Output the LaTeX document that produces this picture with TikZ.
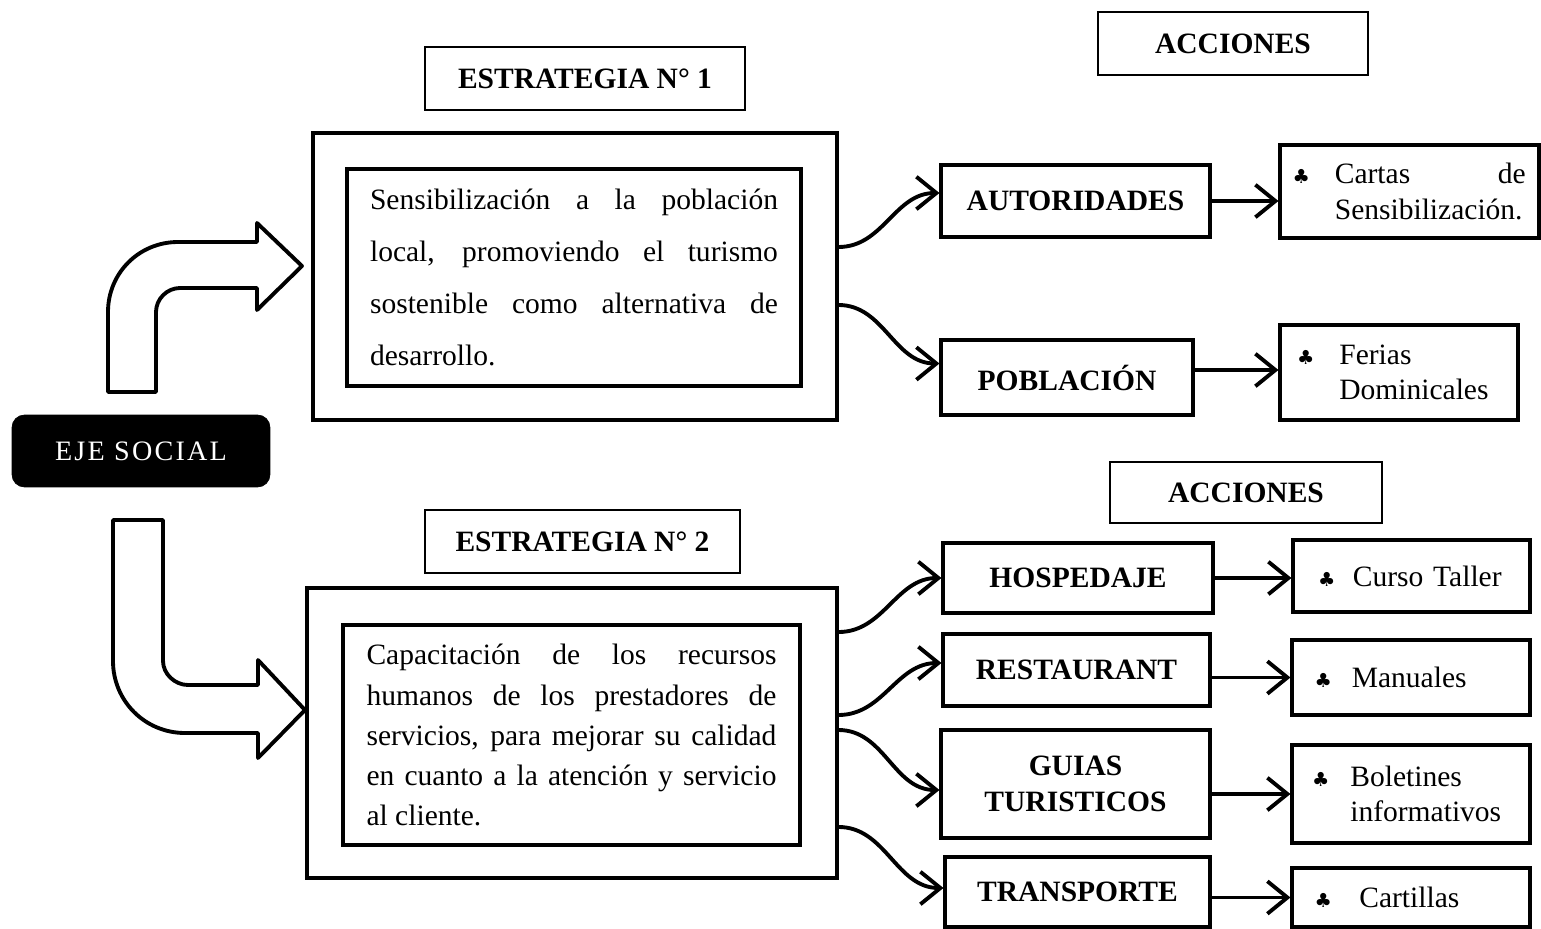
\documentclass[tikz,border=0pt]{standalone}
\usepackage{fontspec}
\setmainfont{Liberation Serif}
\newfontfamily\dejavu{DejaVu Sans}
\usepackage{tikz}
\usetikzlibrary{arrows.meta,calc}
\newcommand{\trebol}{{\dejavu\fontsize{11}{11}\selectfont\char"2663}}
\tikzset{
  branchflow/.style={-{Straight Barb[length=4mm, width=6.5mm]}, line width=2.2pt},
  bendarrow/.style={draw, line width=2.2pt, line join=round, fill=white},
  titlebox/.style={draw, line width=1.6pt, font=\bfseries, inner sep=0pt, align=center},
  framebox/.style={draw, line width=1.8pt, inner sep=0pt},
  textframe/.style={draw, line width=1.8pt, inner sep=0pt, align=justify},
  targetbox/.style={draw, line width=1.8pt, font=\bfseries, inner sep=0pt, align=center},
  actionbox/.style={draw, line width=1.8pt, inner ysep=0pt, align=left},
  ejebox/.style={draw, fill=black, text=white, rounded corners=0.25cm, inner sep=0pt}
}
\begin{document}
\begin{tikzpicture}[x=0.02cm, y=-0.02cm, node font=\fontsize{16.8}{20.2}\selectfont]
  \useasboundingbox (0,0) rectangle (1541,929);

  \node[titlebox, minimum width=5.4cm, minimum height=1.26cm] (acc1) at (1233,43.5) {ACCIONES};
  \node[titlebox, minimum width=6.4cm, minimum height=1.26cm] (est1) at (585,78.5) {ESTRATEGIA N° 1};
  \node[framebox, minimum width=10.48cm, minimum height=5.74cm] (outer1) at (575,276.5) {};
  \node[textframe, minimum width=9.08cm, minimum height=4.34cm, text width=8.16cm,
        font=\fontsize{16.8}{29.5}\selectfont] (sens) at (574,277.5)
    {Sensibilización a la población\linebreak local, promoviendo el turismo\linebreak sostenible como alternativa de\linebreak desarrollo.};
  \node[targetbox, minimum width=5.38cm, minimum height=1.44cm] (aut) at (1075.5,201) {AUTORIDADES};
  \node[targetbox, minimum width=5.04cm, minimum height=1.5cm] (pob) at (1067,377.5) {POBLACIÓN};
  \node[actionbox, inner xsep=0.25cm, minimum width=5.18cm, minimum height=1.86cm, text width=4.68cm] (cartas) at (1409.5,191.5)
    {\trebol\hspace{0.5cm}\parbox[t]{3.82cm}{Cartas\hfill de\\Sensibilización.}};
  \node[actionbox, inner xsep=0.34cm, minimum width=4.76cm, minimum height=1.9cm, text width=4.08cm] (ferias) at (1399,372.5)
    {\trebol\hspace{0.5cm}\parbox[t]{3.0cm}{Ferias\\Dominicales}};

  \node[ejebox, minimum width=5.16cm, minimum height=1.44cm,
        font=\fontsize{16}{19}\selectfont\addfontfeature{LetterSpace=8}] (eje) at (141,451) {EJE SOCIAL};

  \node[titlebox, minimum width=5.44cm, minimum height=1.22cm] (acc2) at (1246,492.5) {ACCIONES};
  \node[titlebox, minimum width=6.3cm, minimum height=1.26cm] (est2) at (582.5,541.5) {ESTRATEGIA N° 2};
  \node[framebox, minimum width=10.6cm, minimum height=5.8cm] (outer2) at (572,733) {};
  \node[textframe, minimum width=9.14cm, minimum height=4.4cm, text width=8.2cm,
        font=\fontsize{16.8}{22.8}\selectfont] (capac) at (571.5,735)
    {Capacitación de los recursos\linebreak humanos de los prestadores de\linebreak servicios, para mejorar su calidad\linebreak en cuanto a la atención y servicio\linebreak al cliente.};
  \node[targetbox, minimum width=5.4cm, minimum height=1.4cm] (hosp) at (1078,578) {HOSPEDAJE};
  \node[targetbox, minimum width=5.34cm, minimum height=1.44cm] (rest) at (1076.5,670) {RESTAURANT};
  \node[targetbox, minimum width=5.38cm, minimum height=2.16cm] (guias) at (1075.5,784) {GUIAS\\TURISTICOS};
  \node[targetbox, minimum width=5.3cm, minimum height=1.4cm] (trans) at (1077.5,892) {TRANSPORTE};
  \node[actionbox, inner xsep=0.5cm, minimum width=4.74cm, minimum height=1.44cm, text width=3.74cm] (curso) at (1411.5,576)
    {\trebol\hspace{0.35cm}Curso Taller};
  \node[actionbox, inner xsep=0.45cm, minimum width=4.76cm, minimum height=1.5cm, text width=3.86cm] (manu) at (1411,677.5)
    {\trebol\hspace{0.4cm}Manuales};
  \node[actionbox, inner xsep=0.4cm, minimum width=4.76cm, minimum height=1.96cm, text width=3.96cm] (bolet) at (1411,794)
    {\trebol\hspace{0.42cm}\parbox[t]{2.9cm}{Boletines\\informativos}};
  \node[actionbox, inner xsep=0.45cm, minimum width=4.76cm, minimum height=1.18cm, text width=3.86cm] (cartil) at (1411,897.5)
    {\trebol\hspace{0.55cm}Cartillas};

  \path[bendarrow] (108,392) -- (108,312) .. controls (108,273) and (139,242) .. (178,242)
    -- (257,242) -- (257,223) -- (302,266) -- (257,310) -- (257,288) -- (180,288)
    .. controls (167,288) and (156,299) .. (156,312) -- (156,392) -- cycle;
  \path[bendarrow] (113,520) -- (163,520) -- (163,661) .. controls (163,674) and (175,685) .. (188,685)
    -- (258,685) -- (258,660) -- (305,710) -- (258,758) -- (258,733) -- (185,733)
    .. controls (145,733) and (113,701) .. (113,661) -- cycle;

  \draw[branchflow] ([yshift=0.59cm]outer1.east) to[out=0, in=180] ([yshift=0.16cm]aut.west);
  \draw[branchflow] ([yshift=-0.57cm]outer1.east) to[out=0, in=180] ([yshift=0.28cm]pob.west);
  \draw[branchflow] ([yshift=2.02cm]outer2.east) to[out=0, in=180] (hosp.west);
  \draw[branchflow] ([yshift=0.36cm]outer2.east) to[out=0, in=180] ([yshift=0.14cm]rest.west);
  \draw[branchflow] ([yshift=0.06cm]outer2.east) to[out=0, in=180] ([yshift=-0.12cm]guias.west);
  \draw[branchflow] ([yshift=-1.88cm]outer2.east) to[out=0, in=180] ([yshift=0.08cm]trans.west);

  \draw[branchflow] (aut.east) -- (aut.east -| cartas.west);
  \draw[branchflow] ([yshift=0.15cm]pob.east) -- ([yshift=0.15cm]pob.east -| ferias.west);
  \draw[branchflow] (hosp.east) -- (hosp.east -| curso.west);
  \draw[branchflow] (rest.east |- manu.west) -- (manu.west);
  \draw[branchflow] (guias.east |- bolet.west) -- (bolet.west);
  \draw[branchflow] (trans.east |- cartil.west) -- (cartil.west);
\end{tikzpicture}
\end{document}
